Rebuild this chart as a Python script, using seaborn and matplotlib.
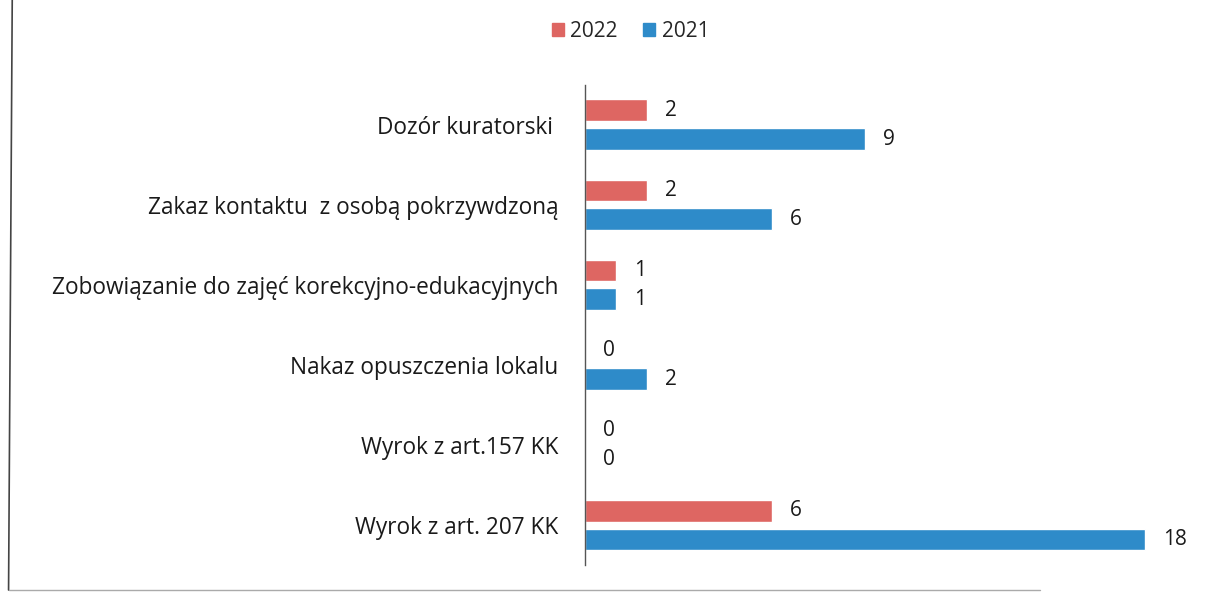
import matplotlib
matplotlib.use("Agg")
import matplotlib.pyplot as plt
import matplotlib.lines as mlines
import seaborn as sns
import pandas as pd

categories = [
    "Dozór kuratorski ",
    "Zakaz kontaktu  z osobą pokrzywdzoną",
    "Zobowiązanie do zajęć korekcyjno-edukacyjnych",
    "Nakaz opuszczenia lokalu",
    "Wyrok z art.157 KK",
    "Wyrok z art. 207 KK",
]
values_2022 = [2, 2, 1, 0, 0, 6]
values_2021 = [9, 6, 1, 2, 0, 18]
series = ["2022", "2021"]
colors = ["#DE6662", "#2E8BC9"]

df = pd.DataFrame({
    "kat": categories * 2,
    "rok": [series[0]] * len(categories) + [series[1]] * len(categories),
    "val": values_2022 + values_2021,
})

sns.set_theme(style="white")
plt.rcParams["font.family"] = ["Open Sans", "DejaVu Sans"]

fig = plt.figure(figsize=(12.24, 5.93), dpi=100)
ax = fig.add_axes([0.478, 0.047, 0.496, 0.81])

sns.barplot(data=df, y="kat", x="val", hue="rok", hue_order=series,
            palette=colors, orient="h", width=0.72, gap=0.24,
            ax=ax, legend=False, saturation=1)

for cont in ax.containers:
    ax.bar_label(cont, labels=[f"{int(v)}" for v in cont.datavalues],
                 padding=13, fontsize=15, color="#1a1a1a")

ax.set_xlim(0, 19.5)
ax.set_ylim(5.5, -0.5)
ax.set_xlabel("")
ax.set_ylabel("")
ax.set_xticks([])
ax.tick_params(axis="y", length=0, pad=19, labelsize=16.3, labelcolor="#1a1a1a")
for s in ["top", "right", "bottom"]:
    ax.spines[s].set_visible(False)
ax.spines["left"].set_color("#555555")
ax.spines["left"].set_linewidth(1.0)

handles = [plt.Rectangle((0, 0), 1, 1, color=c) for c in colors]
fig.legend(handles, series, loc="center", bbox_to_anchor=(0.515, 0.947),
           ncol=2, frameon=False, fontsize=15, handlelength=0.6,
           handleheight=0.6, handletextpad=0.3, columnspacing=1.2)

fig.add_artist(mlines.Line2D([0.010, 0.007], [1.0, 0.005], color="#444444", lw=1.2))
fig.add_artist(mlines.Line2D([0.007, 0.85], [0.005, 0.005], color="#aaaaaa", lw=1.0))

fig.savefig("out.png", dpi=100)
